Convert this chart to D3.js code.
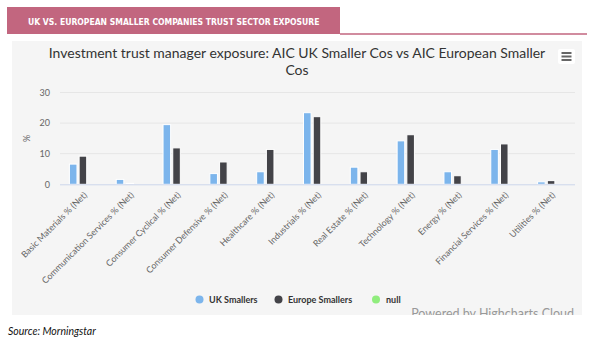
<!DOCTYPE html>
<html lang="en">
<head>
<meta charset="UTF-8">
<title>UK vs European smaller companies sector exposure</title>
<script src="https://d3js.org/d3.v7.min.js"></script>
<style>
  body { margin: 0; background: #ffffff; }
  svg { display: block; }
  .tick-lbl { font-family: Lato, "Open Sans", sans-serif; fill: #666; }
</style>
</head>
<body>
<div id="chart"></div>
<script>
// categories and series values (% net exposure)
const sectors = [
  "Basic Materials % (Net)", "Communication Services % (Net)", "Consumer Cyclical % (Net)",
  "Consumer Defensive % (Net)", "Healthcare % (Net)", "Industrials % (Net)",
  "Real Estate % (Net)", "Technology % (Net)", "Energy % (Net)",
  "Financial Services % (Net)", "Utilities % (Net)"
];
const ukSmallers     = [6.6, 1.6, 19.5, 3.5, 4.1, 23.4, 5.6, 14.2, 4.1, 11.4, 0.8];
const europeSmallers = [9.2, 0.3, 11.9, 7.3, 11.4, 22.1, 4.1, 16.2, 2.8, 13.2, 1.2];
const nullSeries     = [];
const seriesNames = ["UK Smallers", "Europe Smallers", "null"];
const yTicks = [0, 10, 20, 30];

const W = 600, H = 350;
const colors = { "UK Smallers": "#7cb5ec", "Europe Smallers": "#434348", "null": "#90ed7d" };

const svg = d3.select("#chart").append("svg").attr("width", W).attr("height", H);

// header tab
svg.append("rect").attr("x", 7).attr("y", 7).attr("width", 333).attr("height", 27).attr("fill", "#c2667f");
svg.append("line").attr("x1", 340).attr("x2", 587).attr("y1", 34).attr("y2", 34)
  .attr("stroke", "#c2667f").attr("stroke-width", 1.5);
const head = svg.append("text").attr("x", 28).attr("y", 24.5)
  .attr("font-family", "'DejaVu Sans Condensed', 'Liberation Sans Narrow', sans-serif")
  .attr("font-weight", "bold").attr("font-size", 11).attr("fill", "#fff")
  .text("UK VS. EUROPEAN SMALLER COMPANIES TRUST SECTOR EXPOSURE");
const hw = head.node().getComputedTextLength();
head.attr("font-size", 11 * 292 / hw);

// chart panel
svg.append("rect").attr("x", 12).attr("y", 41).attr("width", 570).attr("height", 274).attr("fill", "#f5f5f5");
svg.append("clipPath").attr("id", "panel").append("rect")
  .attr("x", 12).attr("y", 41).attr("width", 570).attr("height", 274);

// title (two lines, sized to the reference width)
const title = svg.append("text").attr("x", 297).attr("y", 58).attr("text-anchor", "middle")
  .attr("font-family", "Lato, 'Open Sans', sans-serif")
  .attr("font-size", 14).attr("fill", "#333")
  .text("Investment trust manager exposure: AIC UK Smaller Cos vs AIC European Smaller");
const tw = title.node().getComputedTextLength();
const tSize = 14 * 497 / tw;
title.attr("font-size", tSize);
svg.append("text").attr("x", 297).attr("y", 75).attr("text-anchor", "middle")
  .attr("font-family", "Lato, 'Open Sans', sans-serif")
  .attr("font-size", tSize).attr("fill", "#333")
  .text("Cos");

// menu icon
svg.append("rect").attr("x", 558).attr("y", 49).attr("width", 17).attr("height", 15).attr("rx", 2).attr("fill", "#fff");
[53, 56.5, 60].forEach(yy => {
  svg.append("line").attr("x1", 561.5).attr("x2", 571.5).attr("y1", yy).attr("y2", yy)
    .attr("stroke", "#666").attr("stroke-width", 2);
});

// scales
const plot = { left: 60, right: 575, top: 92.5, bottom: 184.3 };
const y = d3.scaleLinear().domain([0, 30]).range([plot.bottom, plot.top]);
const x0 = d3.scaleBand().domain(sectors).range([plot.left, plot.right]).padding(0);
const groupW = 27;
const x1 = d3.scaleBand().domain(seriesNames).range([0, groupW]).paddingInner(0.22);
const groupStart = s => x0(s) + (x0.bandwidth() - groupW) / 2 - 0.5;

// grid
svg.append("g").selectAll("line").data(yTicks.filter(t => t > 0)).join("line")
  .attr("x1", plot.left).attr("x2", plot.right)
  .attr("y1", d => y(d)).attr("y2", d => y(d))
  .attr("stroke", "#e6e6e6").attr("stroke-width", 1);

// y axis labels
const yAxis = svg.append("g").attr("transform", `translate(${plot.left - 10},0)`)
  .call(d3.axisLeft(y).tickValues(yTicks).tickSize(0).tickPadding(0));
yAxis.select(".domain").remove();
yAxis.selectAll("text").attr("class", "tick-lbl").attr("font-size", 9).attr("fill", "#666")
  .attr("font-family", "Lato, 'Open Sans', sans-serif");

svg.append("text").attr("transform", `translate(30,${(plot.top + plot.bottom) / 2}) rotate(-90)`)
  .attr("text-anchor", "middle").attr("font-family", "Lato, 'Open Sans', sans-serif")
  .attr("font-size", 9).attr("fill", "#666").text("%");

// bars
const rows = sectors.map((s, i) => ({
  sector: s,
  vals: [
    { name: "UK Smallers", v: ukSmallers[i] },
    { name: "Europe Smallers", v: europeSmallers[i] }
  ].concat(nullSeries[i] != null ? [{ name: "null", v: nullSeries[i] }] : [])
}));

svg.append("g").selectAll("g").data(rows).join("g")
  .attr("transform", d => `translate(${groupStart(d.sector)},0)`)
  .selectAll("rect").data(d => d.vals).join("rect")
  .attr("x", d => x1(d.name))
  .attr("width", x1.bandwidth())
  .attr("y", d => y(d.v))
  .attr("height", d => y(0) - y(d.v))
  .attr("fill", d => colors[d.name])
  .attr("stroke", "#fff").attr("stroke-width", 1);

// x axis line
svg.append("line").attr("x1", plot.left).attr("x2", plot.right)
  .attr("y1", plot.bottom + 0.5).attr("y2", plot.bottom + 0.5)
  .attr("stroke", "#ccd6eb").attr("stroke-width", 1);

// x labels
svg.append("g").selectAll("text").data(sectors).join("text")
  .attr("transform", d => `translate(${x0(d) + x0.bandwidth() / 2 + 2},${plot.bottom + 9}) rotate(-45)`)
  .attr("text-anchor", "end").attr("dy", "0.35em")
  .attr("font-family", "Lato, 'Open Sans', sans-serif").attr("font-size", 8.8).attr("fill", "#666")
  .text(d => d);

// legend
const legendItems = [
  { name: "UK Smallers", cx: 199.5, tx: 209 },
  { name: "Europe Smallers", cx: 278.5, tx: 288 },
  { name: "null", cx: 376, tx: 386 }
];
const lg = svg.append("g");
lg.selectAll("circle").data(legendItems).join("circle")
  .attr("cx", d => d.cx).attr("cy", 299.5).attr("r", 4)
  .attr("fill", d => colors[d.name]);
lg.selectAll("text").data(legendItems).join("text")
  .attr("x", d => d.tx).attr("y", 302.5)
  .attr("font-family", "Lato, 'Open Sans', sans-serif").attr("font-weight", "bold")
  .attr("font-size", 9).attr("fill", "#333").text(d => d.name);

// credits (clipped by the panel edge)
svg.append("text").attr("x", 574).attr("y", 318).attr("text-anchor", "end")
  .attr("clip-path", "url(#panel)")
  .attr("font-family", "Lato, 'Open Sans', sans-serif").attr("font-size", 12.5).attr("fill", "#999")
  .text("Powered by Highcharts Cloud");

// source
svg.append("text").attr("x", 8).attr("y", 335)
  .attr("font-family", "Lato, 'Open Sans', sans-serif").attr("font-style", "italic")
  .attr("font-size", 10.5).attr("fill", "#111").text("Source: Morningstar");
</script>
</body>
</html>
